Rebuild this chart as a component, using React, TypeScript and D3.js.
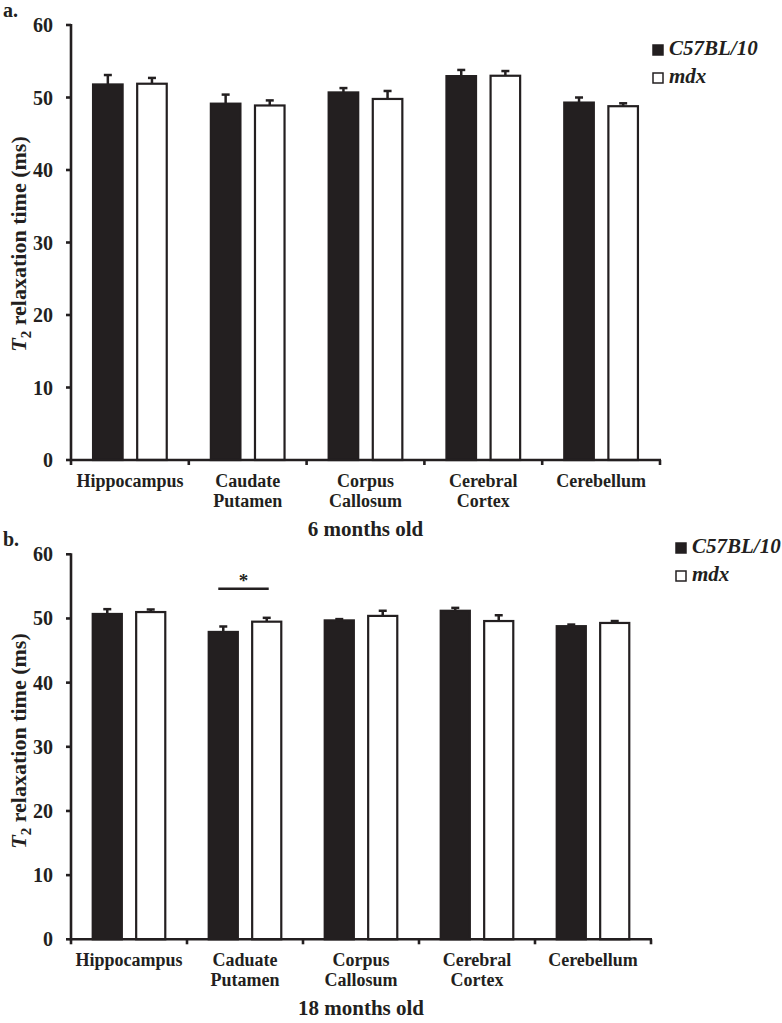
import React from 'react';
import * as d3 from 'd3';

// regions on the x axis (panel b keeps the original spelling)
const regionsA = ['Hippocampus', 'Caudate Putamen', 'Corpus Callosum', 'Cerebral Cortex', 'Cerebellum'];
const regionsB = ['Hippocampus', 'Caduate Putamen', 'Corpus Callosum', 'Cerebral Cortex', 'Cerebellum'];
const groups = ['C57BL/10', 'mdx'];
const yTicks = [0, 10, 20, 30, 40, 50, 60];

// 6 months old, T2 (ms) and SEM
const c57_6m = [51.8, 49.15, 50.7, 52.95, 49.3];
const c57_6m_err = [1.3, 1.25, 0.6, 0.85, 0.7];
const mdx_6m = [51.9, 48.9, 49.8, 53.0, 48.8];
const mdx_6m_err = [0.8, 0.7, 1.1, 0.65, 0.4];

// 18 months old
const c57_18m = [50.7, 47.9, 49.7, 51.2, 48.8];
const c57_18m_err = [0.75, 0.85, 0.2, 0.45, 0.25];
const mdx_18m = [51.0, 49.5, 50.4, 49.6, 49.3];
const mdx_18m_err = [0.4, 0.6, 0.8, 0.9, 0.3];

const INK = '#231f20';
const FONT = '"Liberation Serif", "Times New Roman", serif';

type PanelProps = {
  letter: string;
  title: string;
  regions: string[];
  c57: number[];
  c57Err: number[];
  mdx: number[];
  mdxErr: number[];
  left: number;
  right: number;
  top: number;
  bottom: number;
  labelY: number;
  legendX: number;
  legendY: number;
  sig?: number; // index of region with significant difference
};

const Panel = (p: PanelProps) => {
  const x = d3.scaleBand<string>().domain(p.regions).range([p.left, p.right]).padding(0);
  const inner = d3.scaleBand<string>().domain(groups).range([0, x.bandwidth()])
    .paddingInner(0.33).paddingOuter(0.5);
  const y = d3.scaleLinear().domain([0, 60]).range([p.bottom, p.top]);
  const bw = inner.bandwidth();
  const series = [
    { key: groups[0], vals: p.c57, errs: p.c57Err, fill: INK },
    { key: groups[1], vals: p.mdx, errs: p.mdxErr, fill: '#fff' },
  ];

  return (
    <g>
      <text x={3} y={p.top - 8} fontSize={20} fontWeight="bold">{p.letter}</text>

      {/* bars */}
      {series.map(s => p.regions.map((r, i) => {
        const bx = (x(r) as number) + (inner(s.key) as number);
        const cx = bx + bw / 2;
        const yTop = y(s.vals[i]);
        const yErr = y(s.vals[i] + s.errs[i]);
        return (
          <g key={s.key + r}>
            <line x1={cx} x2={cx} y1={yTop} y2={yErr} stroke={INK} strokeWidth={2.5} />
            <line x1={cx - 4} x2={cx + 4} y1={yErr} y2={yErr} stroke={INK} strokeWidth={2.5} />
            <rect x={bx} y={yTop} width={bw} height={p.bottom - yTop}
              fill={s.fill} stroke={INK} strokeWidth={2.2} />
          </g>
        );
      }))}

      {/* significance */}
      {p.sig !== undefined && (() => {
        const r = p.regions[p.sig];
        const x1 = (x(r) as number) + (inner(groups[0]) as number) + bw / 2 - 5;
        const x2 = (x(r) as number) + (inner(groups[1]) as number) + bw / 2 + 2;
        const top = Math.max(p.c57[p.sig] + p.c57Err[p.sig], p.mdx[p.sig] + p.mdxErr[p.sig]);
        const ly = y(top) - 29;
        return (
          <g>
            <line x1={x1} x2={x2} y1={ly} y2={ly} stroke={INK} strokeWidth={2.5} />
            <text x={(x1 + x2) / 2} y={ly - 2} textAnchor="middle" fontSize={19} fontWeight="bold">*</text>
          </g>
        );
      })()}

      {/* y axis */}
      <line x1={p.left} x2={p.left} y1={p.top - 1} y2={p.bottom + 1} stroke={INK} strokeWidth={2.6} />
      {yTicks.map(t => (
        <g key={t}>
          <line x1={p.left - 5} x2={p.left} y1={y(t)} y2={y(t)} stroke={INK} strokeWidth={2.6} />
          <text x={53} y={y(t)} dy="0.35em" textAnchor="end" fontSize={20} fontWeight="bold">{t}</text>
        </g>
      ))}

      {/* x axis */}
      <line x1={p.left - 1} x2={p.right + 1} y1={p.bottom} y2={p.bottom} stroke={INK} strokeWidth={2.6} />
      {[...p.regions.map(r => x(r) as number), p.right].map((v, i) => (
        <line key={i} x1={v} x2={v} y1={p.bottom} y2={p.bottom + 5} stroke={INK} strokeWidth={2.6} />
      ))}
      {p.regions.map(r => (
        <text key={r} x={(x(r) as number) + x.bandwidth() / 2} y={p.bottom + 27}
          textAnchor="middle" fontSize={18} fontWeight="bold">
          {r.split(' ').map((w, j) => (
            <tspan key={j} x={(x(r) as number) + x.bandwidth() / 2} dy={j === 0 ? 0 : 20}>{w}</tspan>
          ))}
        </text>
      ))}

      {/* y label */}
      <text transform={`translate(26,${p.labelY}) rotate(-90)`} textAnchor="middle" fontSize={22} fontWeight="bold">
        <tspan fontStyle="italic">T</tspan>
        <tspan fontSize={15} dy={5}>2</tspan>
        <tspan dy={-5}> relaxation time (ms)</tspan>
      </text>

      {/* title */}
      <text x={(p.left + p.right) / 2} y={p.bottom + 76} textAnchor="middle" fontSize={21} fontWeight="bold">{p.title}</text>

      {/* legend */}
      <rect x={p.legendX} y={p.legendY - 10} width={10} height={10} fill={INK} stroke={INK} strokeWidth={1.5} />
      <text x={p.legendX + 16} y={p.legendY} fontSize={21} fontWeight="bold" fontStyle="italic">{groups[0]}</text>
      <rect x={p.legendX} y={p.legendY + 18} width={10} height={10} fill="#fff" stroke={INK} strokeWidth={1.5} />
      <text x={p.legendX + 16} y={p.legendY + 28} fontSize={21} fontWeight="bold" fontStyle="italic">{groups[1]}</text>
    </g>
  );
};

const App = () => {
  return (
    <svg width={782} height={1023} style={{ position: 'absolute', left: 0, top: 0, background: '#fff' }}
      fontFamily={FONT} fill={INK}>
      <Panel letter="a." title="6 months old" regions={regionsA}
        c57={c57_6m} c57Err={c57_6m_err} mdx={mdx_6m} mdxErr={mdx_6m_err}
        left={71} right={660} top={25} bottom={460} labelY={244} legendX={653} legendY={55} />
      <Panel letter="b." title="18 months old" regions={regionsB}
        c57={c57_18m} c57Err={c57_18m_err} mdx={mdx_18m} mdxErr={mdx_18m_err}
        left={71} right={651} top={554.3} bottom={939.3} labelY={741} legendX={676} legendY={553} sig={1} />
    </svg>
  );
};

export default App;
